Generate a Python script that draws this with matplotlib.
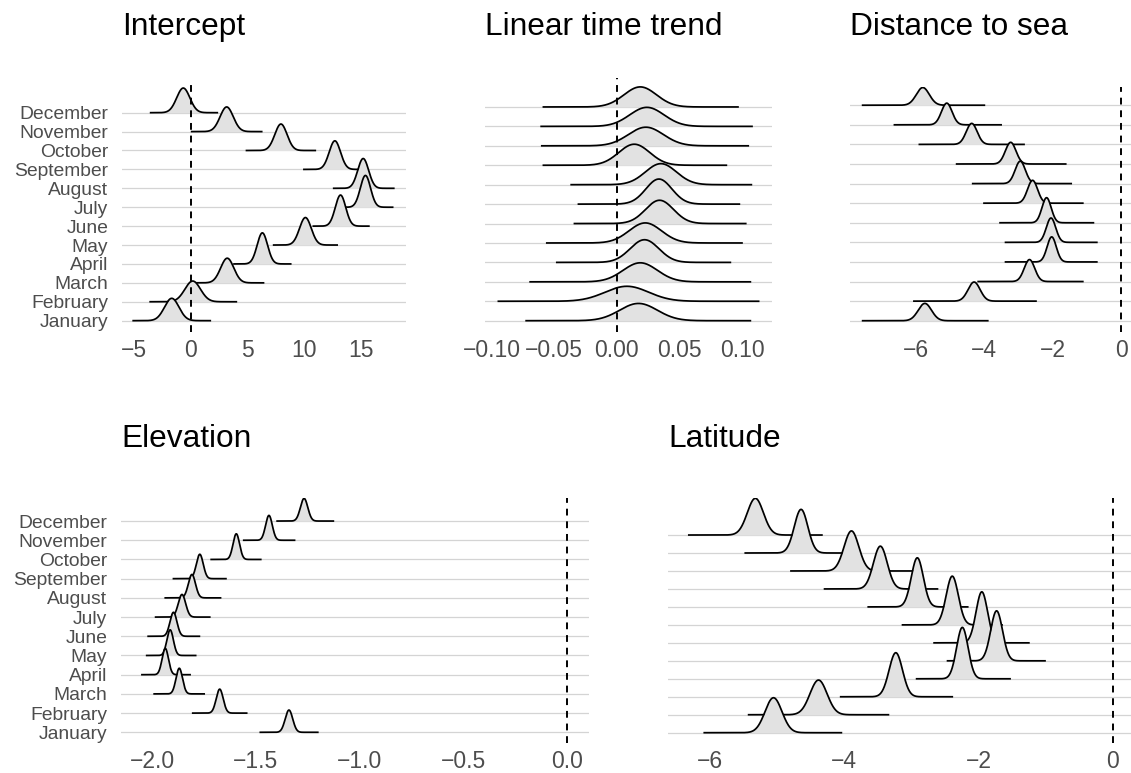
import numpy as np
import matplotlib.pyplot as plt

plt.rcParams['font.family'] = ['Liberation Sans', 'DejaVu Sans']

months = ["January", "February", "March", "April", "May", "June", "July",
          "August", "September", "October", "November", "December"]

# posterior summaries, January -> December
icpt_mean = [-1.7, 0.15, 3.2, 6.3, 10.1, 13.2, 15.4, 15.2, 12.7, 7.94, 3.15, -0.68]
icpt_sd = [0.64, 0.69, 0.58, 0.46, 0.52, 0.46, 0.45, 0.48, 0.50, 0.54, 0.58, 0.58]
icpt_lo = [-5.1, -3.6, 0.06, 3.8, 7.3, 10.8, 13.1, 12.6, 9.97, 4.9, 0.06, -3.56]
icpt_hi = [1.7, 4.0, 6.4, 8.8, 12.9, 15.7, 17.8, 17.9, 15.5, 10.97, 6.24, 2.32]

trend_mean = [0.0173, 0.008, 0.0187, 0.0221, 0.0227, 0.0341, 0.0336, 0.0352, 0.0139, 0.0232, 0.024, 0.0187]
trend_sd = [0.0151, 0.0174, 0.0137, 0.0115, 0.0130, 0.0112, 0.0104, 0.0124, 0.0124, 0.0140, 0.0137, 0.0130]
trend_lo = [-0.0725, -0.0947, -0.0693, -0.048, -0.056, -0.0339, -0.0307, -0.0365, -0.0587, -0.06, -0.0605, -0.0587]
trend_hi = [0.1067, 0.1133, 0.1067, 0.0907, 0.1, 0.103, 0.0979, 0.1075, 0.0875, 0.105, 0.108, 0.0968]

sea_mean = [-5.74, -4.30, -2.68, -2.03, -2.05, -2.18, -2.59, -2.95, -3.23, -4.37, -5.10, -5.80]
sea_sd = [0.194, 0.176, 0.153, 0.134, 0.138, 0.134, 0.147, 0.15, 0.155, 0.16, 0.155, 0.19]
sea_lo = [-7.56, -6.06, -4.18, -3.38, -3.38, -3.54, -4.01, -4.34, -4.81, -5.90, -6.63, -7.56]
sea_hi = [-3.9, -2.49, -1.12, -0.71, -0.71, -0.81, -1.12, -1.46, -1.62, -2.84, -3.51, -4.0]

elev_mean = [-1.341, -1.675, -1.87, -1.9375, -1.914, -1.898, -1.857, -1.809, -1.771, -1.595, -1.4375, -1.268]
elev_sd = [0.0181, 0.0168, 0.0157, 0.0153, 0.0157, 0.0168, 0.0178, 0.0172, 0.0165, 0.0157, 0.0162, 0.0178]
elev_lo = [-1.479, -1.805, -1.991, -2.05, -2.027, -2.02, -1.984, -1.9375, -1.898, -1.716, -1.559, -1.398]
elev_hi = [-1.202, -1.545, -1.75, -1.818, -1.791, -1.773, -1.723, -1.671, -1.645, -1.477, -1.314, -1.127]

lat_mean = [-5.05, -4.38, -3.23, -2.24, -1.73, -1.95, -2.39, -2.91, -3.46, -3.89, -4.64, -5.32]
lat_sd = [0.126, 0.127, 0.100, 0.0857, 0.0881, 0.0863, 0.0904, 0.0897, 0.103, 0.110, 0.101, 0.120]
lat_lo = [-6.08, -5.42, -4.05, -2.92, -2.46, -2.66, -3.13, -3.64, -4.29, -4.79, -5.47, -6.31]
lat_hi = [-4.04, -3.34, -2.39, -1.53, -1.01, -1.25, -1.65, -2.16, -2.61, -2.97, -3.76, -4.33]

W, H = 1131, 773
fig = plt.figure(figsize=(W / 100, H / 100), dpi=100)

FILL = '#e2e2e2'
GRID = '#d4d4d4'
TXT = '#4d4d4d'


def fmt(v, nd):
    s = f"{v:.{nd}f}"
    if float(s) == 0:
        s = s.lstrip('-')
    return s.replace('-', '\u2212')


def ridge_panel(px, title, mean, sd, lo, hi, peak, xlim, ylim, ticks, nd, ylabels):
    x0, x1, top, bot = px
    ax = fig.add_axes([x0 / W, 1 - bot / H, (x1 - x0) / W, (bot - top) / H])
    mean, sd, lo, hi = map(np.asarray, (mean, sd, lo, hi))
    scale = peak / (1 / (sd * np.sqrt(2 * np.pi))).max()
    for i in range(12):
        ax.axhline(i + 1, color=GRID, lw=0.9, zorder=1)
    for i in reversed(range(12)):
        x = np.linspace(lo[i], hi[i], 600)
        d = scale * np.exp(-0.5 * ((x - mean[i]) / sd[i]) ** 2) / (sd[i] * np.sqrt(2 * np.pi))
        z = 10 + (12 - i)
        ax.fill_between(x, i + 1, i + 1 + d, color=FILL, lw=0, zorder=z)
        ax.plot(x, i + 1 + d, color='black', lw=1.25, zorder=z)
    ax.axvline(0, color='black', lw=1.4, ls=(0, (3.5, 3)), zorder=50)
    ax.set_xlim(xlim)
    ax.set_ylim(ylim)
    ax.set_xticks(ticks)
    ax.set_xticklabels([fmt(t, nd) for t in ticks], fontsize=16.5, color=TXT)
    ax.set_yticks(range(1, 13))
    ax.set_yticklabels(months if ylabels else [''] * 12, fontsize=13.9, color=TXT)
    ax.tick_params(length=0)
    ax.tick_params(axis='x', pad=5)
    ax.tick_params(axis='y', pad=10)
    for s in ax.spines.values():
        s.set_visible(False)
    title_base = 35 if top < 300 else 447
    fig.text(x0 / W, 1 - title_base / H, title,
             fontsize=22.8, color='black', va='baseline', ha='left')
    return ax


ridge_panel((122, 406, 83, 332), "Intercept", icpt_mean, icpt_sd, icpt_lo, icpt_hi, 1.68,
            (-6.09, 18.98), (0.40, 13.57), [-5, 0, 5, 10, 15], 0, True)
ridge_panel((485, 772, 78, 332), "Linear time trend", trend_mean, trend_sd, trend_lo, trend_hi, 1.29,
            (-0.1054, 0.124), (0.418, 13.49), [-0.10, -0.05, 0.0, 0.05, 0.10], 2, False)
ridge_panel((850, 1131, 87, 332), "Distance to sea", sea_mean, sea_sd, sea_lo, sea_hi, 1.28,
            (-7.93, 0.29), (0.424, 12.93), [-6, -4, -2, 0], 0, False)
ridge_panel((121, 589, 498, 743), "Elevation", elev_mean, elev_sd, elev_lo, elev_hi, 1.37,
            (-2.151, 0.106), (0.443, 13.2), [-2.0, -1.5, -1.0, -0.5, 0.0], 1, True)
ridge_panel((668, 1131, 498, 743), "Latitude", lat_mean, lat_sd, lat_lo, lat_hi, 2.86,
            (-6.62, 0.27), (0.427, 14.06), [-6, -4, -2, 0], 0, False)

fig.savefig('out.png', dpi=100, facecolor='white')
